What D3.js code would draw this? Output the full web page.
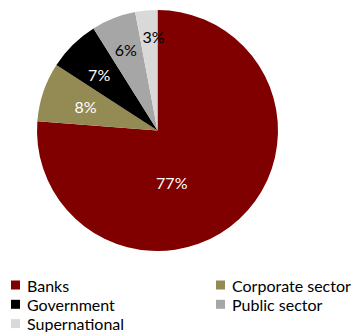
<!DOCTYPE html>
<html>
<head>
<meta charset="utf-8">
<script src="https://cdn.jsdelivr.net/npm/d3@7"></script>
<style>
  html, body { margin: 0; padding: 0; background: #fff; }
  svg { display: block; font-family: Lato, "Open Sans", sans-serif; }
</style>
</head>
<body>
<svg id="chart" width="352" height="332"></svg>
<script>
// Share of issuance by issuer type (%)
const categories = ["Banks", "Corporate sector", "Government", "Public sector", "Supernational"];
const shares = [77, 8, 7, 6, 3];
const colors = ["#800000", "#948A54", "#000000", "#A6A6A6", "#D9D9D9"];
const labelColors = ["#ffffff", "#ffffff", "#ffffff", "#000000", "#000000"];

const svg = d3.select("#chart");
const cx = 157.5, cy = 130.5, R = 120.5;

const pie = d3.pie().sort(null).value(d => d.value);
const arcs = pie(categories.map((c, i) => ({ name: c, value: shares[i], i })));
const arc = d3.arc().innerRadius(0).outerRadius(R);

const g = svg.append("g").attr("transform", `translate(${cx},${cy})`);

g.selectAll("path.slice")
  .data(arcs)
  .enter().append("path")
  .attr("class", "slice")
  .attr("d", arc)
  .attr("fill", d => colors[d.data.i]);

// Label placement: distance from centre as a fraction of the radius; the large
// slice's label is pulled toward the lower part of the pie.
const labelRadius = [0.45, 0.63, 0.67, 0.72, 0.78];
const labelAngleShift = [0.48, 0, -0.03, 0, 0.05];

g.selectAll("text.value")
  .data(arcs)
  .enter().append("text")
  .attr("class", "value")
  .attr("transform", d => {
    const a = (d.startAngle + d.endAngle) / 2 + labelAngleShift[d.data.i];
    const r = R * labelRadius[d.data.i];
    return `translate(${r * Math.sin(a)},${-r * Math.cos(a)})`;
  })
  .attr("text-anchor", "middle")
  .attr("dominant-baseline", "central")
  .attr("font-size", 16)
  .attr("fill", d => labelColors[d.data.i])
  .text(d => d3.format("d")(d.data.value) + "%");

// Legend: two columns, filled row by row
const legend = svg.append("g");
const colX = [11, 216], rowY0 = 285, rowH = 19.3, sq = 9;
const items = legend.selectAll("g.item")
  .data(categories)
  .enter().append("g")
  .attr("class", "item")
  .attr("transform", (d, i) => `translate(${colX[i % 2]},${rowY0 + Math.floor(i / 2) * rowH})`);

items.append("rect")
  .attr("x", 0).attr("y", -sq / 2)
  .attr("width", sq).attr("height", sq)
  .attr("fill", (d, i) => colors[i]);

items.append("text")
  .attr("x", 16)
  .attr("dominant-baseline", "central")
  .attr("font-size", 16)
  .attr("fill", "#000")
  .text(d => d);
</script>
</body>
</html>
